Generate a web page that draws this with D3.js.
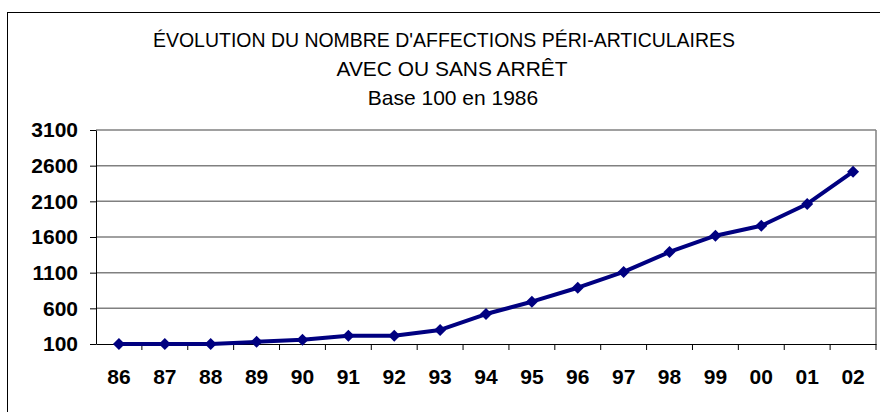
<!DOCTYPE html>
<html>
<head>
<meta charset="utf-8">
<script src="https://cdn.jsdelivr.net/npm/d3@7"></script>
<style>
  body { margin: 0; background: #fff; }
  svg { display: block; font-family: Arial, "Liberation Sans", sans-serif; }
</style>
</head>
<body>
<svg id="chart"></svg>
<script>
// data (base 100 in 1986)
var years = ["86", "87", "88", "89", "90", "91", "92", "93", "94", "95", "96", "97", "98", "99", "00", "01", "02"];
var values = [100, 100, 100, 130, 158, 215, 215, 297, 520, 693, 889, 1110, 1390, 1618, 1757, 2063, 2515];
var yTicks = [100, 600, 1100, 1600, 2100, 2600, 3100];
var titleLines = ["ÉVOLUTION DU NOMBRE D'AFFECTIONS PÉRI-ARTICULAIRES", "AVEC OU SANS ARRÊT", "Base 100 en 1986"];

var width = 880, height = 412;
var margin = {top: 130, right: 4, bottom: 68, left: 96};

var svg = d3.select("#chart")
    .attr("width", width)
    .attr("height", height);

// outer frame (runs off the right and bottom edges)
svg.append("rect")
    .attr("x", 7.5).attr("y", 12.5)
    .attr("width", 900).attr("height", 420)
    .attr("fill", "none")
    .attr("stroke", "#000")
    .attr("stroke-width", 1);

// title
var titleX = [444, 452, 453];
var titleY = [47, 76, 105];
var titleLen = [582, 231, null];
titleLines.forEach(function(t, i) {
    var txt = svg.append("text")
        .attr("x", titleX[i])
        .attr("y", titleY[i])
        .attr("text-anchor", "middle")
        .attr("font-size", 21)
        .attr("fill", "#000")
        .text(t);
    if (titleLen[i]) {
        txt.attr("textLength", titleLen[i]).attr("lengthAdjust", "spacingAndGlyphs");
    }
});

var x = d3.scaleBand()
    .domain(years)
    .range([margin.left, width - margin.right])
    .padding(0);

var y = d3.scaleLinear()
    .domain([100, 3100])
    .range([height - margin.bottom, margin.top]);

// grid lines
svg.append("g")
    .selectAll("line")
    .data(yTicks.slice(1))
    .join("line")
        .attr("x1", margin.left)
        .attr("x2", width - margin.right)
        .attr("y1", function(d) { return y(d); })
        .attr("y2", function(d) { return y(d); })
        .attr("stroke", "#808080")
        .attr("stroke-width", 1.5);

// right border of plot area
svg.append("line")
    .attr("x1", width - margin.right).attr("x2", width - margin.right)
    .attr("y1", y(3100)).attr("y2", y(100))
    .attr("stroke", "#808080")
    .attr("stroke-width", 1.5);

// y axis
var yAxis = svg.append("g")
    .attr("transform", "translate(" + margin.left + ",0)")
    .call(d3.axisLeft(y).tickValues(yTicks).tickSize(6).tickPadding(12).tickSizeOuter(0).tickFormat(d3.format("d")));
yAxis.select(".domain").attr("stroke", "#000");
yAxis.selectAll(".tick line").attr("stroke", "#000");
yAxis.selectAll("text")
    .attr("font-size", 21)
    .attr("font-weight", "bold")
    .attr("font-family", "Arial, 'Liberation Sans', sans-serif")
    .attr("fill", "#000");

// x axis: labels at band centres, ticks at band edges
var xAxis = svg.append("g")
    .attr("transform", "translate(0," + y(100) + ")")
    .call(d3.axisBottom(x).tickSize(0).tickPadding(25).tickSizeOuter(0));
xAxis.select(".domain").attr("stroke", "#000");
xAxis.selectAll("text")
    .attr("font-size", 21)
    .attr("font-weight", "bold")
    .attr("font-family", "Arial, 'Liberation Sans', sans-serif")
    .attr("fill", "#000");

var edges = years.map(function(d) { return x(d); }).concat([x.range()[1]]);
xAxis.selectAll(".edge")
    .data(edges.slice(1))
    .join("line")
        .attr("class", "edge")
        .attr("x1", function(d) { return d; })
        .attr("x2", function(d) { return d; })
        .attr("y1", 0)
        .attr("y2", 6)
        .attr("stroke", "#000");

// series line
var line = d3.line()
    .x(function(d, i) { return x(years[i]) + x.bandwidth() / 2; })
    .y(function(d) { return y(d); });

svg.append("path")
    .datum(values)
    .attr("d", line)
    .attr("fill", "none")
    .attr("stroke", "#000080")
    .attr("stroke-width", 4)
    .attr("stroke-linejoin", "round");

// diamond markers
svg.append("g")
    .selectAll("path")
    .data(values)
    .join("path")
        .attr("d", d3.symbol().type(d3.symbolSquare).size(72))
        .attr("transform", function(d, i) {
            return "translate(" + (x(years[i]) + x.bandwidth() / 2) + "," + y(d) + ") rotate(45)";
        })
        .attr("fill", "#000080");
</script>
</body>
</html>
